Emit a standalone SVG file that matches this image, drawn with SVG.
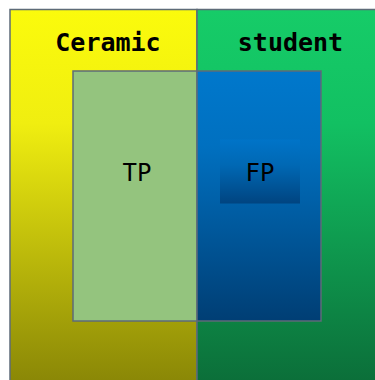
<svg xmlns="http://www.w3.org/2000/svg" width="375" height="380" viewBox="0 0 375 380">
<defs>
<linearGradient id="gY" x1="0" y1="0" x2="0" y2="1"><stop offset="0" stop-color="#fbfb0c"/><stop offset="0.3" stop-color="#f0ee10"/><stop offset="1" stop-color="#878406"/></linearGradient>
<linearGradient id="gG" x1="0" y1="0" x2="0" y2="1"><stop offset="0" stop-color="#16cc68"/><stop offset="0.3" stop-color="#12c062"/><stop offset="1" stop-color="#0b6c38"/></linearGradient>
<linearGradient id="gB" x1="0" y1="0" x2="0" y2="1"><stop offset="0" stop-color="#0078cc"/><stop offset="0.3" stop-color="#0070c0"/><stop offset="1" stop-color="#003e74"/></linearGradient>
<linearGradient id="gS" x1="0" y1="0" x2="0" y2="1"><stop offset="0" stop-color="#0074c8"/><stop offset="0.4" stop-color="#0068b4"/><stop offset="1" stop-color="#004480"/></linearGradient>
</defs>
<style>
.b{stroke:#5e6b78;stroke-width:1.5}
.lab{font-family:"DejaVu Sans Mono",monospace;font-size:25px;font-weight:bold;fill:#000;text-anchor:middle}
.in{font-family:"DejaVu Sans Mono",monospace;font-size:24px;fill:#000;text-anchor:middle}
</style>
<g id="ceramic"><rect class="b" x="10" y="9.5" width="187" height="380" fill="url(#gY)"/><text class="lab" x="108" y="51">Ceramic</text></g>
<g id="student"><rect class="b" x="197" y="9.5" width="190" height="380" fill="url(#gG)"/><text class="lab" x="290.5" y="51">student</text></g>
<g id="TP"><rect class="b" x="73" y="71" width="124" height="250" fill="#94c47e"/><text class="in" x="137" y="181">TP</text></g>
<g id="FP"><rect class="b" x="197" y="71" width="124" height="250" fill="url(#gB)"/><rect x="220" y="139.5" width="80" height="64" fill="url(#gS)"/><text class="in" x="260" y="181">FP</text></g>
<g id="connectors"/>
</svg>
